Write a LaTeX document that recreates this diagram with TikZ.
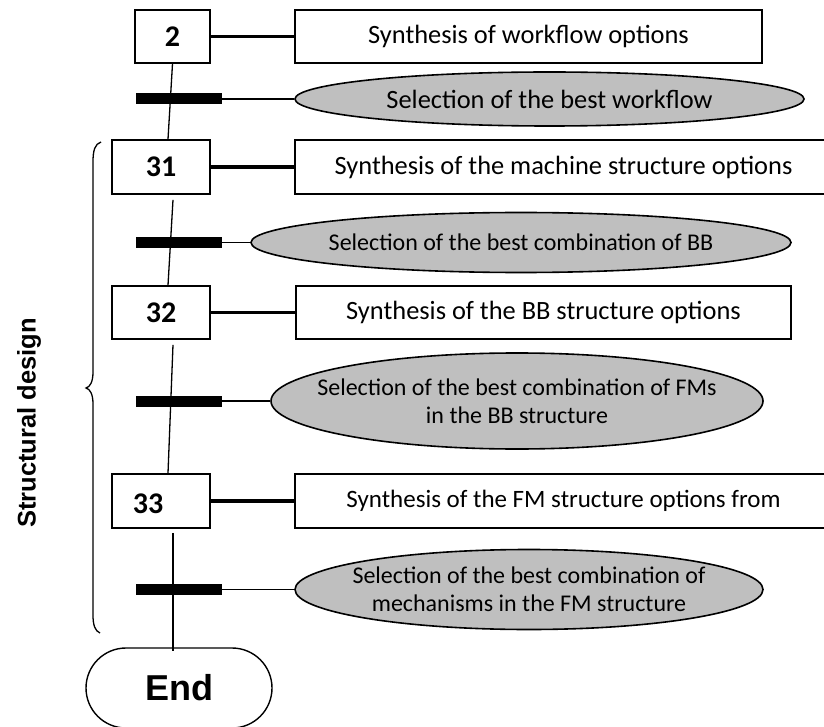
\documentclass[tikz,border=0pt]{standalone}
\usepackage{fontspec}
\setmainfont{Carlito}
\newfontfamily\arialf{Liberation Sans}
\usetikzlibrary{shapes.geometric}
\definecolor{selgray}{RGB}{191,191,191}
\tikzset{
  numbox/.style={draw, line width=1.6pt, minimum height=53pt, inner sep=0pt, font=\fontsize{30}{36}\selectfont\bfseries},
  synbox/.style={draw, line width=1.6pt, minimum height=53pt, inner sep=0pt},
  selell/.style={draw, ellipse, fill=selgray, line width=1.6pt, inner sep=0pt},
  barbox/.style={fill=black, draw=none, minimum width=86pt, minimum height=11pt, inner sep=0pt},
  thickcon/.style={line width=3.5pt},
  thincon/.style={line width=1.3pt},
  bigtxt/.style={font=\fontsize{26.4}{32}\selectfont},
  smalltxt/.style={font=\fontsize{24}{28}\selectfont, align=center, inner sep=0pt},
}
\begin{document}
\begin{tikzpicture}[x=1pt, y=-1pt]
\useasboundingbox (0,0) rectangle (824,727);
\clip (0,0) rectangle (824,727);

% left step boxes
\node[numbox, minimum width=75pt] (b2) at (172.5,36.5) {2};
\node[numbox, minimum width=98pt, minimum height=54pt] (b31) at (161,167) {31};
\node[numbox, minimum width=98pt] (b32) at (161,312.5) {32};
\node[numbox, minimum width=98pt, minimum height=54pt] (b33) at (161,501) {};
\node[font=\fontsize{30}{36}\selectfont\bfseries, inner sep=0pt] (b33t) at (148,504) {33};

% synthesis boxes
\node[synbox, bigtxt, minimum width=467pt] (r1) at (528.5,36.5) {Synthesis of workflow options};
\node[synbox, bigtxt, minimum width=537pt, minimum height=54pt] (r31) at (563.5,167) {Synthesis of the machine structure options};
\node[synbox, bigtxt, minimum width=495pt] (r32) at (543.5,312.5) {Synthesis of the BB structure options};
\node[synbox, font=\fontsize{25}{30}\selectfont, minimum width=537pt, minimum height=54pt] (r33) at (563.5,501) {Synthesis of the FM structure options from};

% bars
\node[barbox] (bar1) at (179,99) {};
\node[barbox] (bar2) at (179,242.5) {};
\node[barbox] (bar3) at (179,401) {};
\node[barbox] (bar4) at (179,589.5) {};

% selection ellipses
\node[selell, minimum width=509pt, minimum height=54pt] (e1) at (549.5,99) {};
\node[bigtxt, inner sep=0pt] (e1t) at (e1.center) {Selection of the best workflow};
\node[selell, minimum width=540pt, minimum height=60pt] (e2) at (521,242.5) {};
\node[smalltxt] (e2t) at (e2.center) {Selection of the best combination of BB};
\node[selell, minimum width=492pt, minimum height=96pt] (e3) at (517,401) {};
\node[smalltxt] (e3t) at (e3.center) {Selection of the best combination of FMs\\in the BB structure};
\node[selell, minimum width=468pt, minimum height=80pt] (e4) at (529,589.5) {};
\node[smalltxt] (e4t) at (e4.center) {Selection of the best combination of\\mechanisms in the FM structure};

% end
\node[draw, line width=1.4pt, rounded corners=40pt, minimum width=186pt, minimum height=80pt, inner sep=0pt,
      font=\arialf\bfseries\fontsize{36}{42}\selectfont] (end) at (179,688) {End};

% connectors
\draw[thickcon] (b2.east) -- (r1.west);
\draw[thickcon] (b31.east) -- (r31.west);
\draw[thickcon] (b32.east) -- (r32.west);
\draw[thickcon] (b33.east) -- (r33.west);
\draw[thincon] (bar1.east) -- (e1.west);
\draw[thincon] (bar2.east) -- (e2.west);
\draw[thincon] (bar3.east) -- (e3.west);
\draw[thincon] (bar4.east) -- (e4.west);
\draw[thincon] (b2.south) -- ([xshift=7pt]b31.north);
\draw[thincon] ([xshift=12pt,yshift=-5pt]b31.south) -- ([xshift=7pt]b32.north);
\draw[thincon] ([xshift=12pt,yshift=-5pt]b32.south) -- ([xshift=7pt]b33.north);
\draw[thincon] ([xshift=12pt,yshift=-4pt]b33.south) -- ([xshift=-6pt,yshift=-4pt]end.north);

% brace
\draw[line width=1.3pt] (101,142) .. controls (95,144) and (93,150) .. (93,162) -- (93,372)
  .. controls (93,382) and (90,387) .. (86,388) .. controls (90,389) and (93,394) .. (93,404)
  -- (93,615) .. controls (93,625) and (95,631) .. (100,633);

\node[rotate=90, font=\arialf\bfseries\fontsize{25.5}{30}\selectfont, inner sep=0pt] (sd) at (29,423) {Structural design};
\end{tikzpicture}
\end{document}
